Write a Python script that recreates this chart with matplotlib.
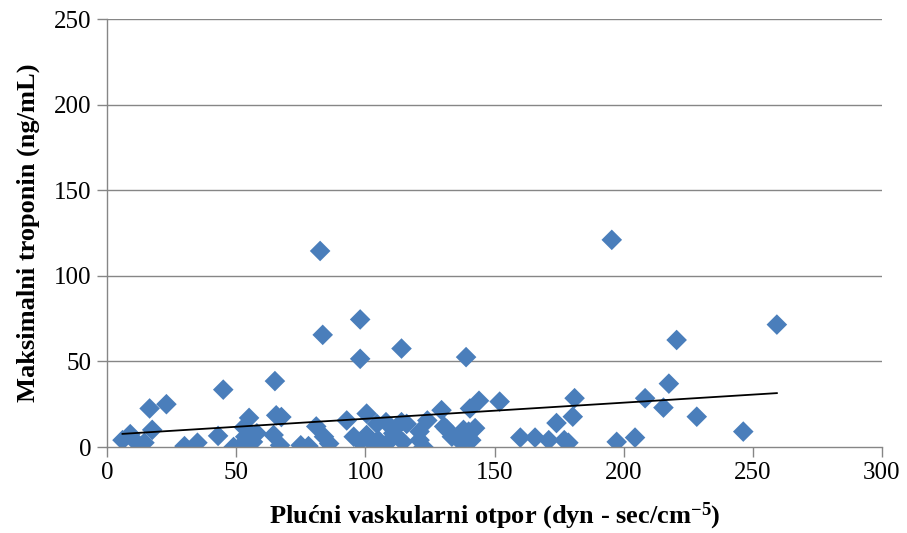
import numpy as np
import matplotlib
matplotlib.use("Agg")
import matplotlib.pyplot as plt

pvr = [6, 9, 11.5, 14.5, 16.5, 17.5, 23,
       30, 35, 43, 45, 49, 52, 53, 55, 53.5, 56.5, 58,
       65, 64.5, 65.5, 67.5, 67, 75, 78, 81, 82.5, 83.5, 84, 86,
       92.8, 95.5, 98, 98, 98, 100.5, 100.5, 102.5, 104, 105, 104.5,
       108, 108.3, 110.8, 114, 114, 114.5, 116, 121, 121, 122.5, 124,
       129.5, 130.5, 131.5, 133.5, 137.3, 138, 139, 140, 141, 140.5,
       142.5, 144, 152, 160, 165.7, 171, 174, 177, 178.6, 180.3, 181,
       195.4, 197.3, 204.4, 208.3, 215.4, 217.5, 220.5, 228.3, 246.3, 259.3]
troponin = [4, 7.5, 2.5, 2.5, 22.5, 10, 25,
            0.5, 2.5, 6.5, 33.5, 0, 1, 11.5, 17, 6, 3, 8,
            38.5, 7, 18.5, 17.5, 1, 1, 0.5, 12, 114.5, 65.5, 6, 2,
            15.5, 6, 74.5, 51.5, 3, 19.5, 7, 3, 0, 4, 13.5,
            14.5, 2, 8, 57.5, 14.5, 3, 13.5, 4, 9, 0, 15.5,
            21.5, 12, 10.5, 6, 2.5, 10, 52.5, 9, 4, 22.5,
            11, 27, 26.5, 5.5, 5.5, 4, 14, 4, 2.5, 17.7, 28.5,
            121, 3, 5.5, 28.5, 23, 37, 62.5, 17.7, 9, 71.5]

x_ticks = [0, 50, 100, 150, 200, 250, 300]
y_ticks = [0, 50, 100, 150, 200, 250]

plt.rcParams['font.family'] = ['Liberation Serif', 'DejaVu Serif']
plt.rcParams['mathtext.fontset'] = 'custom'
plt.rcParams['mathtext.rm'] = 'Liberation Serif:bold'
plt.rcParams['mathtext.it'] = 'Liberation Serif:bold'

fig = plt.figure(figsize=(9.07, 5.33), dpi=100)
ax = fig.add_axes([107/907, 1-447/533, 775/907, 428/533])

gray = '#868686'
for y in y_ticks[1:]:
    ax.axhline(y, color=gray, lw=1.0, zorder=0)

ax.scatter(pvr, troponin, marker='D', s=110, color='#4A7EBB', edgecolors='none', zorder=2)

xa = np.array(pvr, dtype=float)
ya = np.array(troponin, dtype=float)
k, b = np.polyfit(xa, ya, 1)
xs = np.array([xa.min(), xa.max()])
ax.plot(xs, k*xs + b, color='black', lw=1.3, zorder=3)

ax.set_xlim(0, 300)
ax.set_ylim(0, 250)
ax.set_xticks(x_ticks)
ax.set_yticks(y_ticks)
ax.tick_params(axis='both', direction='out', length=7, width=1, color=gray, labelsize=18, pad=4)
for s in ['top', 'right']:
    ax.spines[s].set_visible(False)
for s in ['left', 'bottom']:
    ax.spines[s].set_color(gray)
    ax.spines[s].set_linewidth(1.0)

ax.set_xlabel('Plućni vaskularni otpor (dyn - sec/cm$^{-5}$)', fontsize=19, fontweight='bold', labelpad=12)
ax.set_ylabel('Maksimalni troponin (ng/mL)', fontsize=19, fontweight='bold', labelpad=10)

fig.savefig('out.png', dpi=100)
